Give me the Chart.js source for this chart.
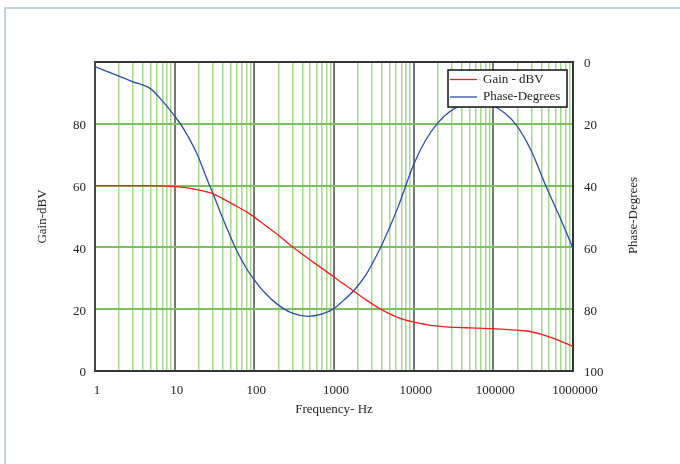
<!DOCTYPE html>
<html>
<head>
<meta charset="utf-8">
<script src="https://cdn.jsdelivr.net/npm/chart.js@4.4.1/dist/chart.umd.min.js"></script>
<style>
  html, body { margin: 0; padding: 0; background: #fff; overflow: hidden; width: 680px; height: 464px; }
  #frame { position: absolute; left: 4px; top: 7px; width: 720px; height: 520px;
           border-left: 2px solid #c3d4dc; border-top: 2px solid #c3d4dc; }
  #wrap { position: absolute; left: 0; top: 0; width: 680px; height: 464px; }
</style>
</head>
<body>
<div id="frame"></div>
<div id="wrap"><canvas id="chart" width="680" height="464"></canvas></div>
<script>
/* ---------- DATA ---------- */
const freq = [1, 2, 3, 5, 7, 10, 13, 19, 26, 30, 40, 60, 80, 100, 130, 190, 300, 475, 700, 1000,
  1300, 1800, 2500, 3800, 5000, 6400, 10000, 14000, 20000, 28000, 45000, 60000, 90000, 140000,
  200000, 300000, 460000, 700000, 1000000];
const gain = [60, 60, 60, 60, 59.9, 59.7, 59.4, 58.7, 57.9, 57.4, 55.8, 53.3, 51.5, 49.8, 47.6, 44.4,
  40.2, 36.4, 33.3, 30.4, 28.3, 25.7, 23.1, 20.1, 18.5, 17.3, 15.8, 15.1, 14.5, 14.2, 14, 13.9, 13.7,
  13.5, 13.2, 12.7, 11.4, 9.7, 7.9];
const phase = [1.5, 4.6, 6.4, 8.7, 12.6, 17.5, 21.7, 29.6, 38.5, 42.3, 50.5, 61, 66.9, 70.5, 74.2,
  78.2, 81.3, 82.3, 81.6, 79.8, 77.3, 73.8, 69, 60.3, 53.5, 46.8, 33.2, 25.5, 19.8, 16.2, 13.4,
  12.8, 13.6, 16.6, 20.8, 28.8, 40.3, 50.8, 60.3];
const xTickLabels = ["1", "10", "100", "1000", "10000", "100000", "1000000"];
const yTicks = [0, 20, 40, 60, 80];
const y2Ticks = [0, 20, 40, 60, 80, 100];

const FONT = "'Liberation Serif', 'Times New Roman', serif";
const TXT = "#222";

// log grid: 1..9 per decade
const gridVals = [];
for (let k = 0; k < xTickLabels.length - 1; k++)
  for (let m = 1; m < 10; m++) gridVals.push(m * Math.pow(10, k));
gridVals.push(Math.pow(10, xTickLabels.length - 1));

const decadeIdx = (v) => {
  const l = Math.log10(v);
  return Math.abs(l - Math.round(l)) < 1e-9 ? Math.round(l) : -1;
};

/* ---------- TEXT PLUGIN (titles + boxed legend) ---------- */
const extras = {
  id: "extras",
  afterDatasetsDraw(chart) {
    const { ctx, chartArea: a } = chart;
    // legend box
    const w = 119, h = 37;
    const lx = a.right - 6 - w, ly = a.top + 8;
    ctx.save();
    ctx.fillStyle = "#fff";
    ctx.fillRect(lx, ly, w, h);
    ctx.strokeStyle = "#111";
    ctx.lineWidth = 1.5;
    ctx.strokeRect(lx, ly, w, h);
    ctx.font = "13px " + FONT;
    ctx.textBaseline = "middle";
    ctx.textAlign = "left";
    chart.data.datasets.forEach((ds, i) => {
      const yy = ly + 9.5 + i * 17.5;
      ctx.strokeStyle = ds.borderColor;
      ctx.lineWidth = 1.3;
      ctx.beginPath();
      ctx.moveTo(lx + 2, yy);
      ctx.lineTo(lx + 29, yy);
      ctx.stroke();
      ctx.fillStyle = TXT;
      ctx.fillText(ds.label, lx + 35, yy);
    });
    ctx.restore();
  },
  afterDraw(chart) {
    const { ctx, chartArea: a } = chart;
    const cy = (a.top + a.bottom) / 2;
    ctx.save();
    ctx.font = "13px " + FONT;
    ctx.fillStyle = TXT;
    ctx.textAlign = "center";
    ctx.textBaseline = "middle";
    ctx.fillText("Frequency- Hz", (a.left + a.right) / 2, 410);
    ctx.translate(43, cy);
    ctx.rotate(-Math.PI / 2);
    ctx.fillText("Gain-dBV", 0, 0);
    ctx.restore();
    ctx.save();
    ctx.font = "13px " + FONT;
    ctx.fillStyle = TXT;
    ctx.textAlign = "center";
    ctx.textBaseline = "middle";
    ctx.translate(634, cy - 1);
    ctx.rotate(-Math.PI / 2);
    ctx.fillText("Phase-Degrees", 0, 0);
    ctx.restore();
  },
};

/* ---------- CHART ---------- */
new Chart(document.getElementById("chart"), {
  type: "line",
  data: {
    datasets: [
      {
        label: "Gain - dBV",
        data: freq.map((f, i) => ({ x: f, y: gain[i] })),
        borderColor: "#f21c1c",
        borderWidth: 1.3,
        pointRadius: 0,
        cubicInterpolationMode: "monotone",
        yAxisID: "y",
      },
      {
        label: "Phase-Degrees",
        data: freq.map((f, i) => ({ x: f, y: phase[i] })),
        borderColor: "#2c4da3",
        borderWidth: 1.3,
        pointRadius: 0,
        cubicInterpolationMode: "monotone",
        yAxisID: "y2",
      },
    ],
  },
  options: {
    responsive: false,
    animation: false,
    layout: { padding: { top: 62, left: 0, right: 0, bottom: 0 } },
    plugins: { legend: { display: false }, tooltip: { enabled: false } },
    scales: {
      x: {
        type: "logarithmic",
        min: 1,
        max: 1e6,
        afterBuildTicks: (s) => { s.ticks = gridVals.map((v) => ({ value: v })); },
        afterFit: (s) => { s.height = 93; },
        ticks: {
          autoSkip: false,
          maxRotation: 0,
          padding: 12,
          labelOffset: 2,
          color: TXT,
          font: { family: FONT, size: 13 },
          callback: (v) => { const i = decadeIdx(v); return i >= 0 ? xTickLabels[i] : ""; },
        },
        grid: {
          drawTicks: false,
          color: (c) => {
            const i = decadeIdx(c.tick.value);
            if (i === 0 || i === xTickLabels.length - 1) return "#333";
            return i >= 0 ? "#777" : "#a6d890";
          },
          lineWidth: (c) => (decadeIdx(c.tick.value) >= 0 ? 2 : 1.5),
        },
        border: { display: true, color: "#333", width: 2 },
      },
      y: {
        position: "left",
        min: 0,
        max: 100,
        afterBuildTicks: (s) => { s.ticks = y2Ticks.map((v) => ({ value: v })); },
        afterFit: (s) => { s.width = 95; },
        ticks: {
          padding: 9,
          labelOffset: 2,
          color: TXT,
          font: { family: FONT, size: 13 },
          callback: (v) => (yTicks.includes(v) ? String(v) : ""),
        },
        grid: {
          drawTicks: false,
          color: (c) => (c.tick.value === 0 || c.tick.value === 100 ? "#333" : "#7cc25c"),
          lineWidth: 2,
        },
        border: { display: true, color: "#444", width: 2 },
      },
      y2: {
        position: "right",
        min: 0,
        max: 100,
        reverse: true,
        afterBuildTicks: (s) => { s.ticks = y2Ticks.map((v) => ({ value: v })); },
        afterFit: (s) => { s.width = 107; },
        ticks: {
          padding: 11,
          labelOffset: 2,
          color: TXT,
          font: { family: FONT, size: 13 },
        },
        grid: { display: false, drawTicks: false },
        border: { display: true, color: "#333", width: 2 },
      },
    },
  },
  plugins: [extras],
});
</script>
</body>
</html>
